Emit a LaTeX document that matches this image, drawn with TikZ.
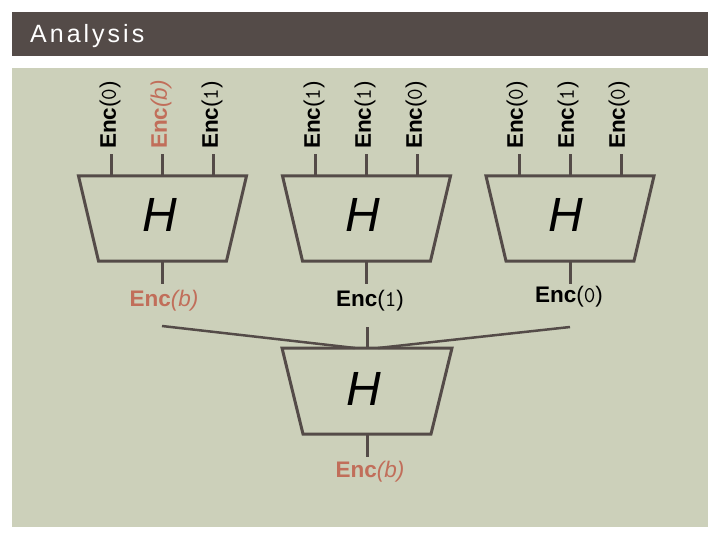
\documentclass[tikz,border=0pt]{standalone}
\usepackage{fontspec}
\setmainfont{Liberation Sans}
\newfontfamily\titlef[LetterSpace=12]{Liberation Sans}
\definecolor{bg}{RGB}{204,208,186}
\definecolor{dk}{RGB}{84,75,72}
\definecolor{rd}{RGB}{193,110,90}
\newcommand\EncZero{\textbf{Enc}({\ttfamily 0})}
\newcommand\EncOne{\textbf{Enc}({\ttfamily 1})}
\newcommand\EncBee{\textbf{Enc}\textit{(b)}}
\tikzset{
  ln/.style={draw=dk, line width=3pt},
  hlab/.style={font=\itshape\fontsize{48}{50}\selectfont, inner sep=0pt},
  enc/.style={font=\fontsize{22.5}{26}\selectfont, inner sep=1pt},
  venc/.style={enc, rotate=90, anchor=west},
}
\begin{document}
\begin{tikzpicture}[x=1pt,y=-1pt]
\useasboundingbox (0,0) rectangle (720,540);
\fill[white] (0,0) rectangle (720,540);
\fill[dk] (12,12) rectangle (708,56);
\node[anchor=base west, text=white, inner sep=0pt, font=\titlef\fontsize{25}{30}\selectfont] (title) at (30,43) {Analysis};
\fill[bg] (12,68) rectangle (708,527);

% top trapezoids
\foreach \n/\cx in {a/162.5, b/366.5, c/570}{
  \draw[ln, line join=miter] (\cx-84,176) -- (\cx+84,176) -- (\cx+64,261) -- (\cx-64,261) -- cycle;
  \coordinate (\n-in1) at (\cx-51,176);
  \coordinate (\n-in2) at (\cx,176);
  \coordinate (\n-in3) at (\cx+51,176);
  \coordinate (\n-out) at (\cx,261);
  \draw[ln] (\n-in1) -- ++(0,-22);
  \draw[ln] (\n-in2) -- ++(0,-22);
  \draw[ln] (\n-in3) -- ++(0,-22);
  \draw[ln] (\n-out) -- ++(0,23);
}
\node[hlab] (Ha) at (160,215) {H};
\node[hlab] (Hb) at (363,215) {H};
\node[hlab] (Hc) at (566,215) {H};

% rotated input labels
\node[venc] (a1) at (110,150) {\EncZero};
\node[venc, text=rd] (a2) at (161,150) {\EncBee};
\node[venc] (a3) at (212,150) {\EncOne};
\node[venc] (b1) at (314,150) {\EncOne};
\node[venc] (b2) at (365,150) {\EncOne};
\node[venc] (b3) at (416,150) {\EncZero};
\node[venc] (c1) at (517,150) {\EncZero};
\node[venc] (c2) at (568,150) {\EncOne};
\node[venc] (c3) at (619,150) {\EncZero};

% output labels
\node[enc, text=rd] (oa) at (164,301) {\EncBee};
\node[enc] (ob) at (370,301) {\EncOne};
\node[enc] (oc) at (569,297) {\EncZero};

% bottom trapezoid
\draw[ln, line join=miter] (282,348) -- (452,348) -- (431,434) -- (303,434) -- cycle;
\node[hlab] (Hd) at (364,389) {H};
\coordinate (d-l) at (355,348);
\coordinate (d-m) at (367,348);
\coordinate (d-r) at (378,348);
\coordinate (d-out) at (367,434);
\coordinate (oa-s) at (162,326);
\coordinate (oc-s) at (570,327);
\draw[draw=dk, line width=2.5pt] (oa-s) -- (d-l);
\draw[draw=dk, line width=2.5pt] (oc-s) -- (d-r);
\draw[ln] (d-m) -- ++(0,-21);
\draw[ln] (d-out) -- ++(0,23);
\node[enc, text=rd] (od) at (370,472) {\EncBee};
\end{tikzpicture}
\end{document}
